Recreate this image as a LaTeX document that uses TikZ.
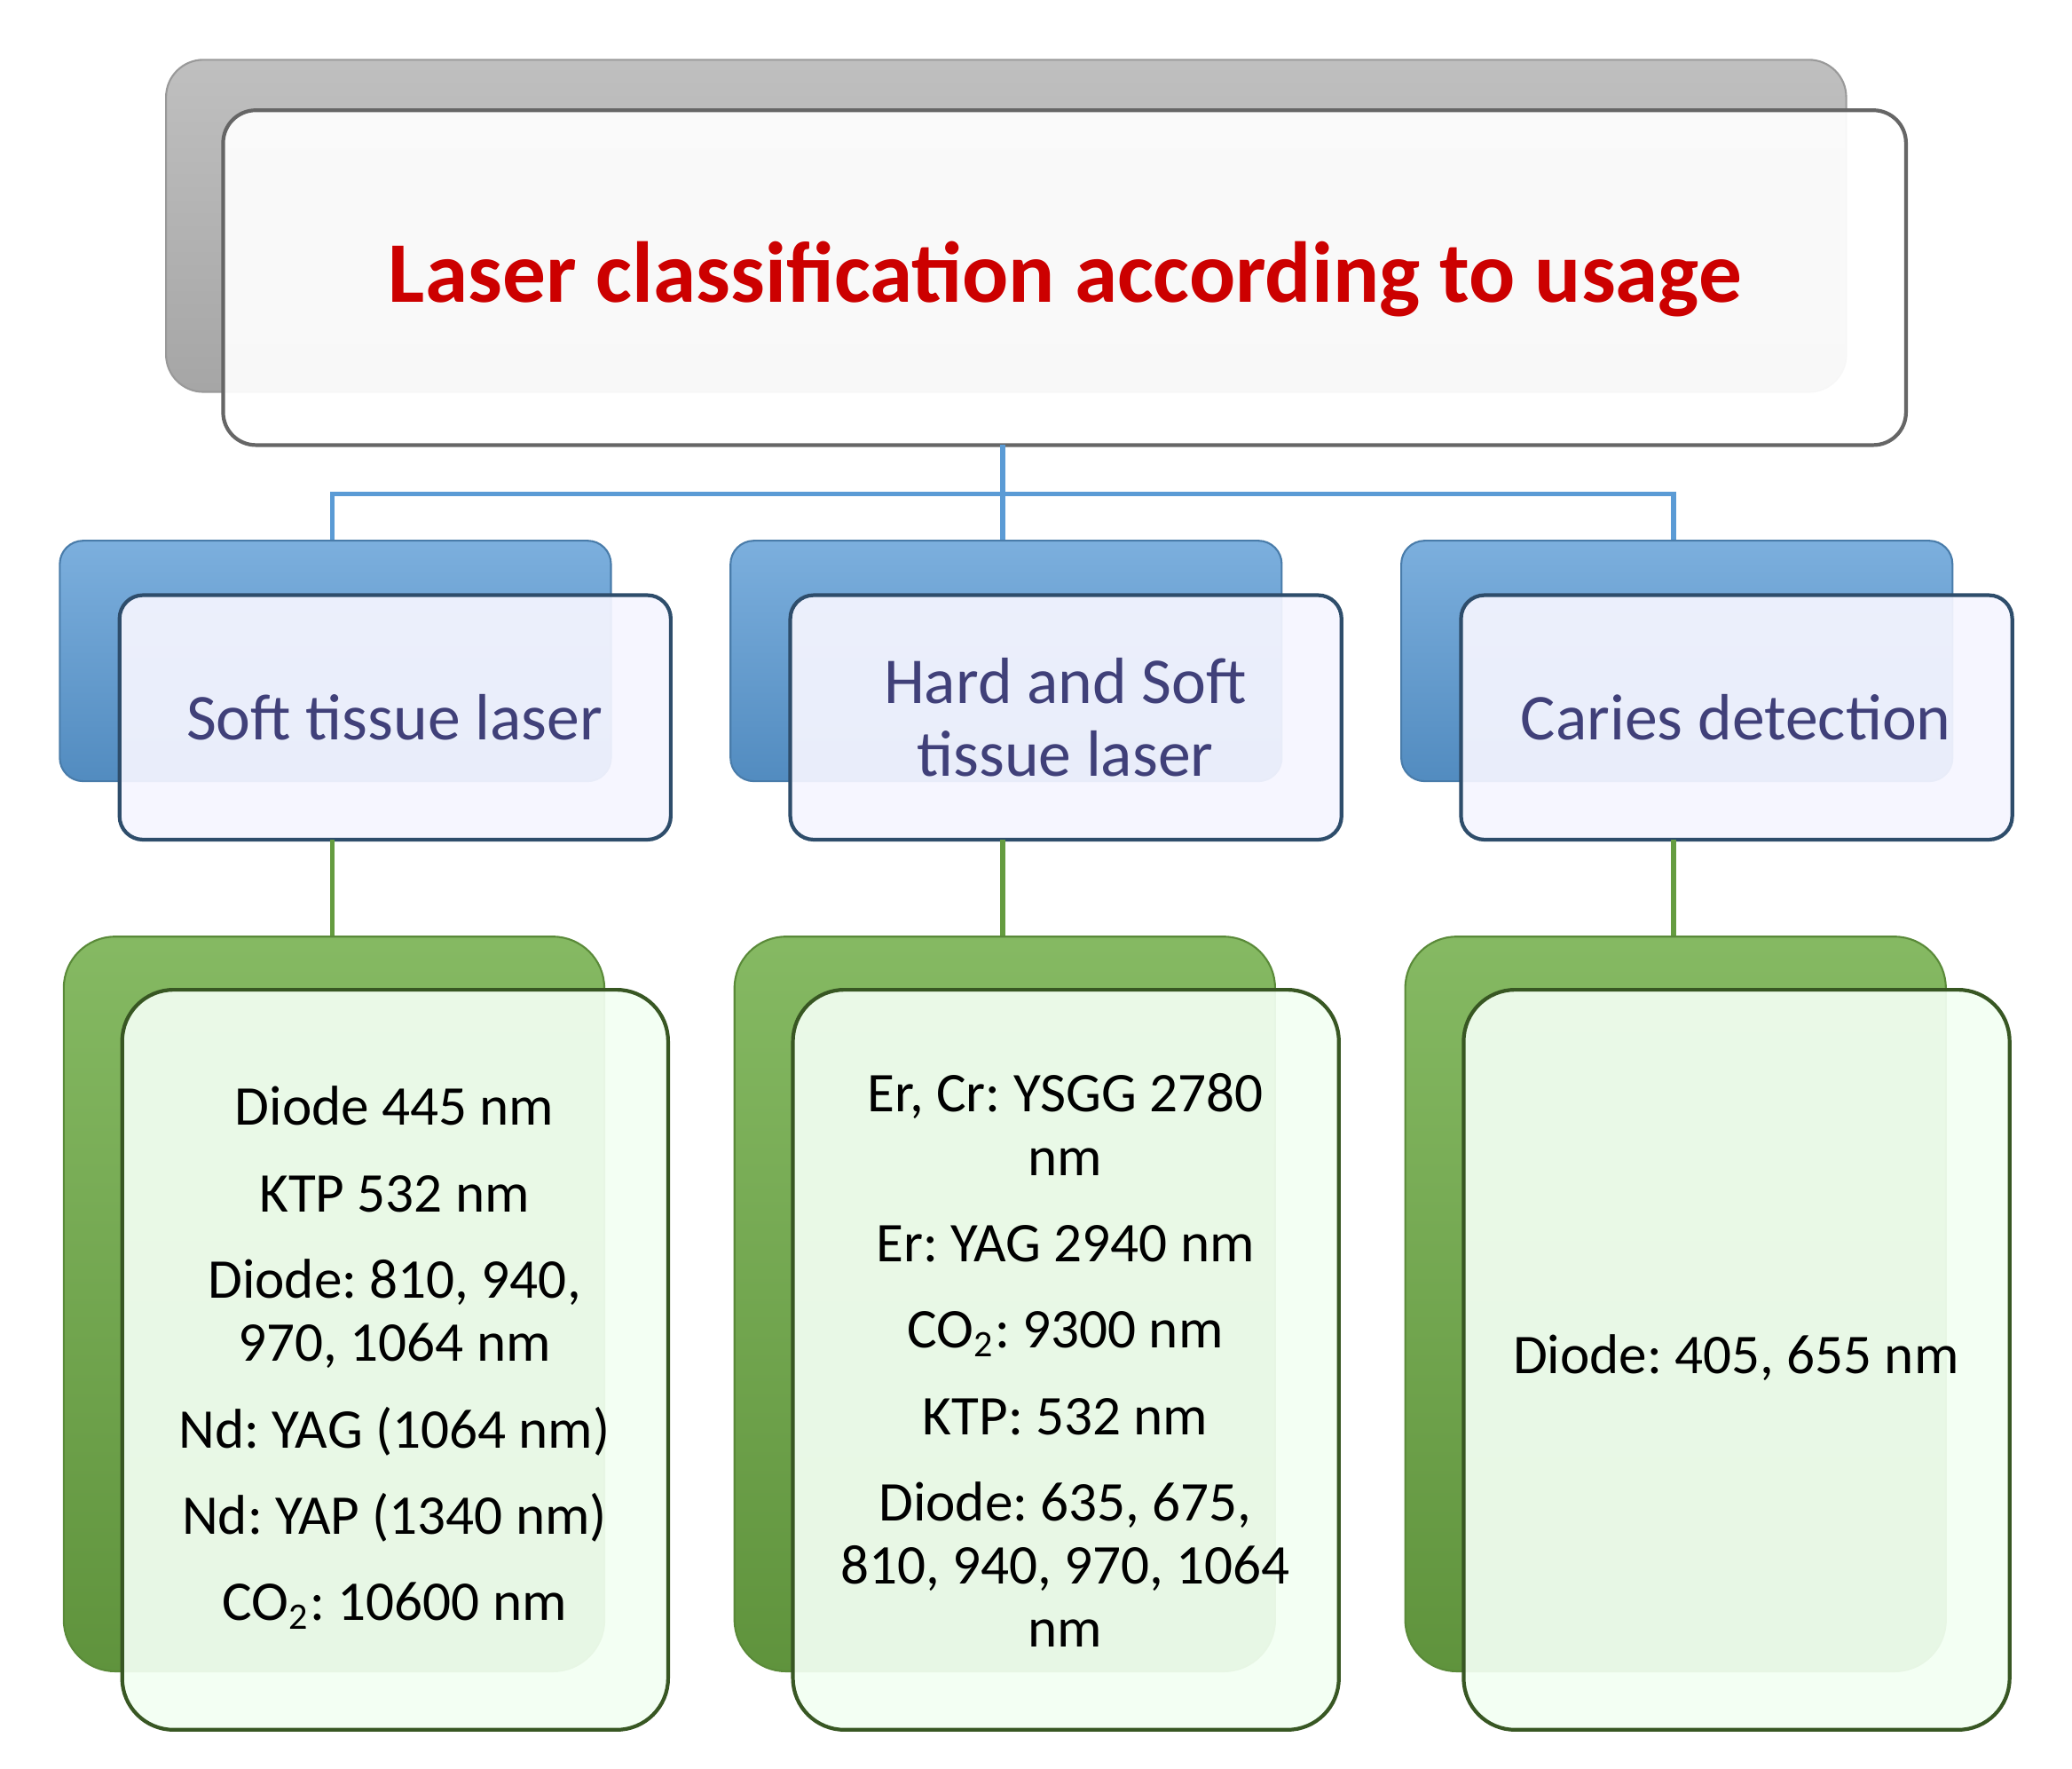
\documentclass[tikz,border=0pt]{standalone}
\usepackage{fontspec}
\setmainfont{Carlito}
\definecolor{bl}{HTML}{5B9BD5}
\definecolor{gr}{HTML}{70AD47}
\begin{document}
\frenchspacing
\begin{tikzpicture}[x=0.01cm,y=-0.01cm,
  grayback/.style={rounded corners=8pt,top color=gray!50,bottom color=gray!70,draw=gray!80},
  blueback/.style={rounded corners=5pt,top color=bl!80,bottom color=bl!90!black,draw=bl!80!black},
  greenback/.style={rounded corners=11pt,top color=gr!85,bottom color=gr!85!black,draw=gr!80!black},
  frontw/.style={rounded corners=7pt,fill=white,fill opacity=0.93,draw=black!60,line width=0.8pt},
  frontb/.style={rounded corners=5pt,fill=blue!4,fill opacity=0.93,draw=bl!50!black,line width=0.8pt},
  frontg/.style={rounded corners=11pt,fill=green!5,fill opacity=0.93,draw=gr!50!black,line width=0.8pt},
  bluetxt/.style={text=blue!30!black!75,font=\fontsize{14}{15.5}\selectfont,align=center},
  bodytxt/.style={font=\fontsize{12}{13.5}\selectfont,align=center},
  bline/.style={draw=bl,line width=1pt},
  gline/.style={draw=gr!90!black,line width=1pt}]
\useasboundingbox (0,0) rectangle (1560,1331);
% top
\draw[grayback] (125,45) rectangle (1390,295);
\draw[frontw] (168,83) rectangle (1435,335);
\node[text=red!80!black,font=\fontsize{18.5}{22}\bfseries] (title) at (802,210) {Laser classification according to usage};
\coordinate (tb) at (755,335);
\coordinate (j) at (755,372);
\coordinate (b1t) at (250,407);
\coordinate (b2t) at (755,407);
\coordinate (b3t) at (1260,407);
\draw[bline] (tb) -- (j) (b1t) -- (250,372) -- (1260,372) -- (b3t) (j) -- (b2t);
% blue boxes
\foreach \x in {0,505,1010}{
  \draw[blueback] (45+\x,407) rectangle (460+\x,588);
  \draw[frontb] (90+\x,448) rectangle (505+\x,632);
}
\node[bluetxt] (s) at (297,540) {Soft tissue laser};
\node[bluetxt] (h) at (802,540) {Hard and Soft\\tissue laser};
\node[bluetxt] (c) at (1307,540) {Caries detection};
% green connectors
\foreach \x in {250,755,1260}{\draw[gline] (\x,632) -- (\x,705);}
% green boxes
\foreach \x in {0,505,1010}{
  \draw[greenback] (48+\x,705) rectangle (455+\x,1258);
  \draw[frontg] (92+\x,745) rectangle (503+\x,1302);
}
\node[bodytxt] (l1) at (297,1022) {Diode 445 nm\\[5pt]KTP 532 nm\\[5pt]Diode: 810, 940,\\970, 1064 nm\\[5pt]Nd: YAG (1064 nm)\\[5pt]Nd: YAP (1340 nm)\\[5pt]CO\textsubscript{2}: 10600 nm};
\node[bodytxt] (l2) at (802,1024) {Er, Cr: YSGG 2780\\nm\\[5pt]Er: YAG 2940 nm\\[5pt]CO\textsubscript{2}: 9300 nm\\[5pt]KTP: 532 nm\\[5pt]Diode: 635, 675,\\810, 940, 970, 1064\\nm};
\node[bodytxt] (l3) at (1307,1022) {Diode: 405, 655 nm};
\end{tikzpicture}
\end{document}
